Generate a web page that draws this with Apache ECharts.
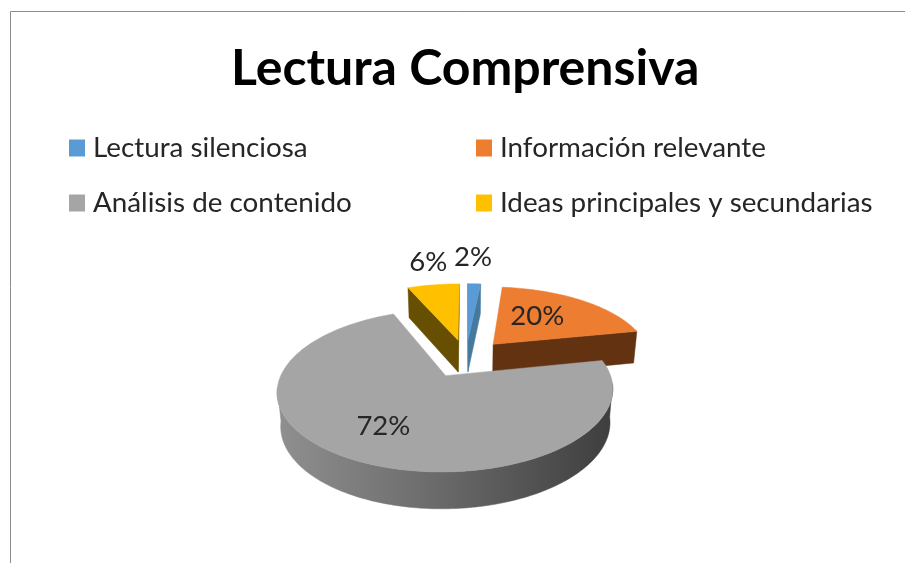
<!DOCTYPE html>
<html>
<head>
<meta charset="utf-8">
<title>Lectura Comprensiva</title>
<script src="https://cdn.jsdelivr.net/npm/echarts@6/dist/echarts.min.js"></script>
<style>
  html, body { margin: 0; padding: 0; background: #fff; }
  #chart { width: 905px; height: 563px; }
</style>
</head>
<body>
<div id="chart"></div>
<script>
// datos
const categories = ['Lectura silenciosa', 'Información relevante', 'Análisis de contenido', 'Ideas principales y secundarias']
const values = [1.6, 20.2, 71.8, 6.4]

const topColors = ['#5b9bd5', '#ed7d31', '#a5a5a5', '#ffc000']
const cutColors = ['#47799f', '#633210', '#6a6a6a', '#664f00']
// desplazamiento de cada etiqueta en px, desde el centro de su sector
const labelShift = [[1, -47], [-11, 0], [-9, 4], [-14, -43]]

// proyeccion del pastel 3D: plano superior e inferior, con perspectiva
const VIEW = { x: 466, k: 0.178 }
const TOP = { a: 158, b: 72, y: 358 }
const BOTTOM = { a: 155, b: 74.7, y: 390.6 }
const EXPLODE = 0.265

const project = (plane, u, v) => {
  const w = 1 - VIEW.k * v
  return [VIEW.x + plane.a * u / w, plane.y + plane.b * v / w]
}

const total = values.reduce((sum, v) => sum + v, 0)
const dir = (a) => [Math.sin(a), -Math.cos(a)]

const sliceRender = (index) => (params, api) => {
  const before = values.slice(0, index).reduce((sum, v) => sum + v, 0)
  const start = before / total * Math.PI * 2
  const end = start + api.value(0) / total * Math.PI * 2
  const mid = (start + end) / 2
  const apex = dir(mid).map(d => d * EXPLODE)
  const camera = [0, 1 / VIEW.k]

  // puntos del borde
  const rim = []
  const steps = Math.max(4, Math.round((end - start) / 0.02))
  for (let i = 0; i <= steps; i++) {
    const a = start + (end - start) * i / steps
    const d = dir(a)
    rim.push({ p: [apex[0] + d[0], apex[1] + d[1]], d })
  }

  const children = []
  const polygon = (points, fill) => children.push({
    type: 'polygon',
    shape: { points },
    style: { fill, stroke: fill, lineWidth: 0.5 }
  })

  // cara de corte si mira a la camara
  const cutWall = (point, normal) => {
    const facing = (camera[0] - apex[0]) * normal[0] + (camera[1] - apex[1]) * normal[1]
    if (facing <= 0) return
    polygon([
      project(TOP, apex[0], apex[1]),
      project(TOP, point[0], point[1]),
      project(BOTTOM, point[0], point[1]),
      project(BOTTOM, apex[0], apex[1])
    ], cutColors[index])
  }
  cutWall(rim[0].p, [-Math.cos(start), -Math.sin(start)])
  cutWall(rim[rim.length - 1].p, [Math.cos(end), Math.sin(end)])

  // pared exterior
  const visible = rim.filter(r => (camera[0] - r.p[0]) * r.d[0] + (camera[1] - r.p[1]) * r.d[1] > -0.4)
  if (visible.length > 1) {
    polygon(
      visible.map(r => project(TOP, r.p[0], r.p[1]))
        .concat(visible.slice().reverse().map(r => project(BOTTOM, r.p[0], r.p[1]))),
      new echarts.graphic.LinearGradient(280, 0, 612, 0, [
        { offset: 0, color: '#8f8f8f' },
        { offset: 0.5, color: '#686868' },
        { offset: 1, color: '#3e3e3e' }
      ], true)
    )
  }

  // cara superior
  polygon(
    [project(TOP, apex[0], apex[1])].concat(rim.map(r => project(TOP, r.p[0], r.p[1]))),
    topColors[index]
  )

  // etiqueta
  const c = project(TOP, apex[0] + dir(mid)[0] * 0.6, apex[1] + dir(mid)[1] * 0.6)
  children.push({
    type: 'text',
    z2: 10,
    style: {
      text: Math.round(api.value(0)) + '%',
      x: c[0] + labelShift[index][0],
      y: c[1] + labelShift[index][1],
      align: 'center',
      verticalAlign: 'middle',
      fill: '#262626',
      font: '27.5px Lato'
    }
  })

  return { type: 'group', children }
}

// el gris va encima de los demas, por eso se dibuja al final
const drawOrder = [3, 0, 1, 2]

const chart = echarts.init(document.getElementById('chart'), null, { renderer: 'canvas' })

const legendBase = {
  orient: 'vertical',
  top: 129,
  itemWidth: 16,
  itemHeight: 17,
  itemGap: 27,
  icon: 'rect',
  selectedMode: false,
  textStyle: { fontFamily: 'Lato', fontSize: 27.8, color: '#262626', padding: [0, 0, 0, 3] }
}

chart.setOption({
  animation: false,
  color: topColors,
  tooltip: { show: false },
  title: {
    text: 'Lectura Comprensiva',
    left: 226,
    top: 39,
    textStyle: { fontFamily: 'Lato', fontWeight: 'bold', fontSize: 50, color: '#000' }
  },
  legend: [
    { ...legendBase, left: 64, data: [categories[0], categories[2]] },
    { ...legendBase, left: 471, data: [categories[1], categories[3]] }
  ],
  graphic: [{
    type: 'polyline',
    silent: true,
    shape: { points: [[10.5, 563], [10.5, 11.5], [905, 11.5]] },
    style: { fill: 'none', stroke: '#8c8c8c', lineWidth: 1 }
  }],
  series: categories.map((name, i) => ({
    type: 'custom',
    name,
    coordinateSystem: 'none',
    silent: true,
    z: 2 + drawOrder.indexOf(i),
    itemStyle: { color: topColors[i] },
    renderItem: sliceRender(i),
    data: [[values[i]]]
  }))
})
</script>
</body>
</html>
